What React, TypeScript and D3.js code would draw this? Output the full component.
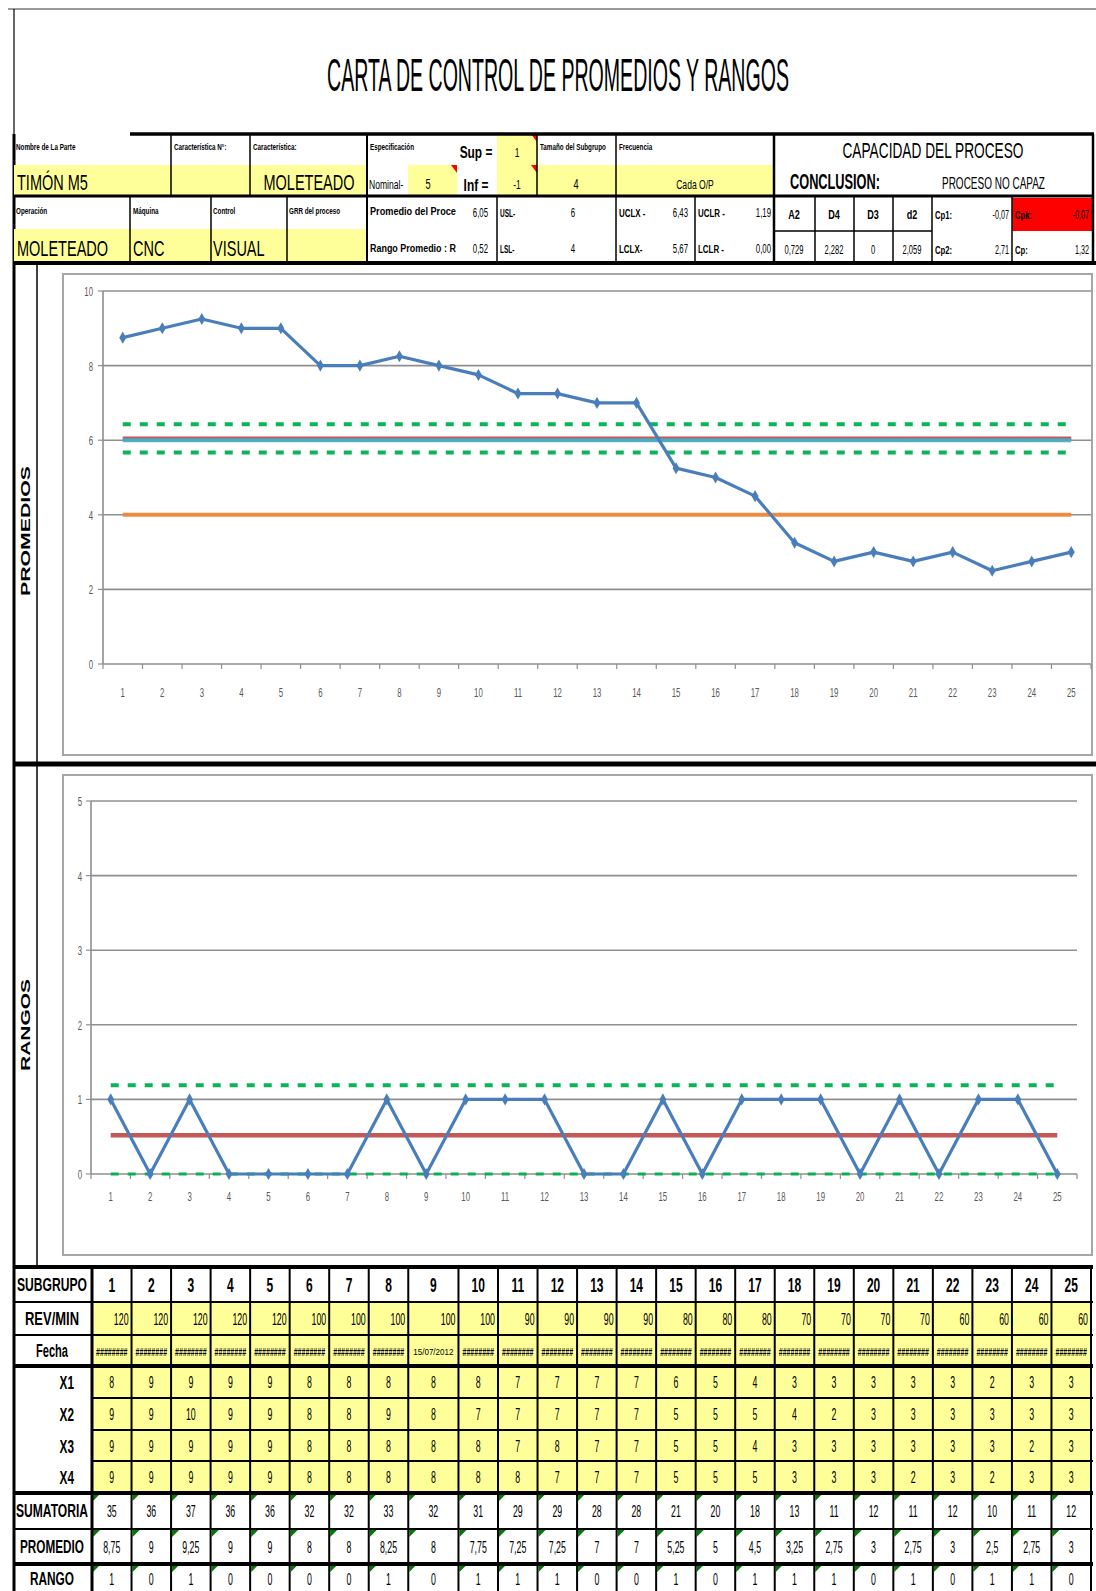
import React from 'react';
import * as d3 from 'd3';

const FONT = "'Liberation Sans', Arial, Helvetica, sans-serif";

// ---------------- data ----------------
const SUBGROUPS = [1, 2, 3, 4, 5, 6, 7, 8, 9, 10, 11, 12, 13, 14, 15, 16, 17, 18, 19, 20, 21, 22, 23, 24, 25];
const REV_MIN = [120, 120, 120, 120, 120, 100, 100, 100, 100, 100, 90, 90, 90, 90, 80, 80, 80, 70, 70, 70, 70, 60, 60, 60, 60];
const FECHA = ['########', '########', '########', '########', '########', '########', '########', '########', '15/07/2012', '########', '########', '########', '########', '########', '########', '########', '########', '########', '########', '########', '########', '########', '########', '########', '########'];
const X1 = [8, 9, 9, 9, 9, 8, 8, 8, 8, 8, 7, 7, 7, 7, 6, 5, 4, 3, 3, 3, 3, 3, 2, 3, 3];
const X2 = [9, 9, 10, 9, 9, 8, 8, 9, 8, 7, 7, 7, 7, 7, 5, 5, 5, 4, 2, 3, 3, 3, 3, 3, 3];
const X3 = [9, 9, 9, 9, 9, 8, 8, 8, 8, 8, 7, 8, 7, 7, 5, 5, 4, 3, 3, 3, 3, 3, 3, 2, 3];
const X4 = [9, 9, 9, 9, 9, 8, 8, 8, 8, 8, 8, 7, 7, 7, 5, 5, 5, 3, 3, 3, 2, 3, 2, 3, 3];
const SUMATORIA = [35, 36, 37, 36, 36, 32, 32, 33, 32, 31, 29, 29, 28, 28, 21, 20, 18, 13, 11, 12, 11, 12, 10, 11, 12];
const PROMEDIO = [8.75, 9, 9.25, 9, 9, 8, 8, 8.25, 8, 7.75, 7.25, 7.25, 7, 7, 5.25, 5, 4.5, 3.25, 2.75, 3, 2.75, 3, 2.5, 2.75, 3];
const RANGO = [1, 0, 1, 0, 0, 0, 0, 1, 0, 1, 1, 1, 0, 0, 1, 0, 1, 1, 1, 0, 1, 0, 1, 1, 0];

const Y_PROM_TICKS = [0, 2, 4, 6, 8, 10];
const Y_RANGO_TICKS = [0, 1, 2, 3, 4, 5];

const XBARBAR = 6.05;
const UCLX = 6.43;
const LCLX = 5.67;
const USL = 6;
const LSL = 4;
const RBAR = 0.52;
const UCLR = 1.19;
const LCLR = 0;

const CONST_HEAD = ['A2', 'D4', 'D3', 'd2'];
const CONST_VAL = ['0,729', '2,282', '0', '2,059'];

const TITLE = 'CARTA DE CONTROL DE PROMEDIOS Y RANGOS';

// ---------------- helpers ----------------
const fmt = (v: number) => String(v).replace('.', ',');
const YELLOW = '#FFFF99';

function T({ x, y, children, size = 12, bold = false, anchor = 'start', sx = 0.65, fill = '#000', len }: any) {
  const ref = React.useRef<SVGTextElement>(null);
  const [s, setS] = React.useState<number>(len ? 0.6 : sx);
  React.useLayoutEffect(() => {
    if (len && ref.current) {
      const natural = ref.current.getComputedTextLength();
      if (natural > 0) setS(len / natural);
    }
  }, [len, children, size]);
  return (
    <text ref={ref} transform={`translate(${x},${y}) scale(${s},1)`} fontSize={size} fontWeight={bold ? 700 : 400}
      textAnchor={anchor} fill={fill} fontFamily={FONT}>{children}</text>
  );
}

function L({ x1, y1, x2, y2, w = 2, c = '#000', dash }: any) {
  return <line x1={x1} y1={y1} x2={x2} y2={y2} stroke={c} strokeWidth={w} strokeDasharray={dash} />;
}

const diamond = d3.symbol(d3.symbolDiamond, 42)() as string;

// ---------------- header ----------------
function Header() {
  const redTri = (x: number, y: number) => <polygon points={`${x - 6},${y} ${x},${y} ${x},${y + 8}`} fill="#FF0000" />;
  const cx4 = [794, 834, 873, 912];
  return (
    <g>
      <T x={558} y={91} size={46} len={462} anchor="middle">{TITLE}</T>

      {/* yellow fills row 1 */}
      <rect x={14} y={165} width={157} height={30} fill={YELLOW} />
      <rect x={171} y={165} width={79} height={30} fill={YELLOW} />
      <rect x={250} y={165} width={117} height={30} fill={YELLOW} />
      <rect x={408} y={165} width={49} height={30} fill={YELLOW} />
      <rect x={497} y={134} width={40} height={61} fill={YELLOW} />
      <rect x={537} y={165} width={79} height={30} fill={YELLOW} />
      <rect x={616} y={165} width={158} height={30} fill={YELLOW} />
      {/* yellow fills row 2 */}
      <rect x={14} y={229} width={116} height={33} fill={YELLOW} />
      <rect x={130} y={229} width={81} height={33} fill={YELLOW} />
      <rect x={211} y={229} width={76} height={33} fill={YELLOW} />
      <rect x={287} y={229} width={80} height={33} fill={YELLOW} />
      <rect x={1012} y={198} width={80} height={33} fill="#FF0000" />

      {redTri(457, 165)}
      {redTri(537, 134)}
      {redTri(537, 165)}

      {/* lines */}
      <L x1={130} y1={134} x2={1094} y2={134} w={3.5} />
      <L x1={14} y1={196} x2={1094} y2={196} w={3} />
      <L x1={14} y1={263} x2={1096} y2={263} w={4} />
      {[171, 250, 537, 616].map((x) => <L key={'a' + x} x1={x} y1={134} x2={x} y2={196} w={1.5} />)}
      <L x1={367} y1={134} x2={367} y2={263} w={2} />
      <L x1={774} y1={134} x2={774} y2={263} w={2.5} />
      <L x1={1093} y1={134} x2={1093} y2={263} w={2.5} />
      {[130, 211, 287, 497, 616, 695, 815, 854, 893, 932, 1012].map((x) => (
        <L key={'b' + x} x1={x} y1={196} x2={x} y2={263} w={1.5} />
      ))}
      <L x1={774} y1={231} x2={932} y2={231} w={1.5} />

      {/* row 1 labels */}
      <T x={16} y={150} size={9} bold sx={0.7}>Nombre de La Parte</T>
      <T x={174} y={150} size={9} bold sx={0.7}>Característica N°:</T>
      <T x={253} y={150} size={9} bold sx={0.7}>Característica:</T>
      <T x={370} y={150} size={9} bold sx={0.7}>Especificación</T>
      <T x={540} y={150} size={9} bold sx={0.7}>Tamaño del Subgrupo</T>
      <T x={619} y={150} size={9} bold sx={0.7}>Frecuencia</T>
      <T x={476} y={158} size={17} bold sx={0.7} anchor="middle">Sup =</T>
      <T x={476} y={191} size={17} bold sx={0.7} anchor="middle">Inf =</T>
      <T x={517} y={157} size={13} sx={0.65} anchor="middle">1</T>
      <T x={517} y={189} size={13} sx={0.65} anchor="middle">-1</T>

      {/* row 1 values */}
      <T x={17} y={190} size={22} sx={0.66}>TIMÓN M5</T>
      <T x={309} y={190} size={22} sx={0.66} anchor="middle">MOLETEADO</T>
      <T x={369} y={189} size={13} sx={0.66}>Nominal-</T>
      <T x={428} y={189} size={14} sx={0.66} anchor="middle">5</T>
      <T x={576} y={189} size={14} sx={0.66} anchor="middle">4</T>
      <T x={695} y={189} size={13} sx={0.66} anchor="middle">Cada O/P</T>

      {/* capacidad */}
      <T x={933} y={158} size={22} len={181} anchor="middle">CAPACIDAD DEL PROCESO</T>
      <T x={790} y={189} size={22} bold len={90}>CONCLUSION:</T>
      <T x={942} y={189} size={16} len={103}>PROCESO NO CAPAZ</T>

      {/* row 2 labels */}
      <T x={16} y={214} size={9} bold sx={0.7}>Operación</T>
      <T x={133} y={214} size={9} bold sx={0.7}>Máquina</T>
      <T x={213} y={214} size={9} bold sx={0.7}>Control</T>
      <T x={289} y={214} size={9} bold sx={0.7}>GRR del proceso</T>
      <T x={17} y={256} size={22} sx={0.66}>MOLETEADO</T>
      <T x={133} y={256} size={22} sx={0.66}>CNC</T>
      <T x={213} y={256} size={22} sx={0.66}>VISUAL</T>

      <T x={370} y={215} size={11} bold len={86}>Promedio del Proce</T>
      <T x={370} y={252} size={11} bold len={86}>Rango Promedio : R</T>
      <T x={488} y={217} size={13} sx={0.6} anchor="end">{fmt(XBARBAR)}</T>
      <T x={488} y={253} size={13} sx={0.6} anchor="end">{fmt(RBAR)}</T>

      <T x={500} y={217} size={10} bold sx={0.65}>USL-</T>
      <T x={500} y={253} size={10} bold sx={0.65}>LSL-</T>
      <T x={573} y={217} size={13} sx={0.6} anchor="middle">{fmt(USL)}</T>
      <T x={573} y={253} size={13} sx={0.6} anchor="middle">{fmt(LSL)}</T>

      <T x={619} y={217} size={11} bold sx={0.72}>UCLX -</T>
      <T x={619} y={253} size={11} bold sx={0.72}>LCLX-</T>
      <T x={688} y={217} size={13} sx={0.6} anchor="end">{fmt(UCLX)}</T>
      <T x={688} y={253} size={13} sx={0.6} anchor="end">{fmt(LCLX)}</T>

      <T x={698} y={217} size={11} bold sx={0.72}>UCLR -</T>
      <T x={698} y={253} size={11} bold sx={0.72}>LCLR -</T>
      <T x={771} y={217} size={13} sx={0.6} anchor="end">{fmt(UCLR)}</T>
      <T x={771} y={253} size={13} sx={0.6} anchor="end">{LCLR.toFixed(2).replace('.', ',')}</T>

      {CONST_HEAD.map((h, i) => (
        <T key={h} x={cx4[i]} y={219} size={13} bold sx={0.7} anchor="middle">{h}</T>
      ))}
      {CONST_VAL.map((v, i) => (
        <T key={'v' + i} x={cx4[i]} y={254} size={13} sx={0.58} anchor="middle">{v}</T>
      ))}
      <T x={935} y={219} size={11} bold sx={0.7}>Cp1:</T>
      <T x={1009} y={219} size={12} sx={0.6} anchor="end">-0,07</T>
      <T x={935} y={254} size={11} bold sx={0.7}>Cp2:</T>
      <T x={1009} y={254} size={12} sx={0.6} anchor="end">2,71</T>
      <T x={1015} y={219} size={11} bold sx={0.7}>Cpk:</T>
      <T x={1089} y={219} size={12} sx={0.6} anchor="end">-0,07</T>
      <T x={1015} y={254} size={11} bold sx={0.7}>Cp:</T>
      <T x={1089} y={254} size={12} sx={0.6} anchor="end">1,32</T>
    </g>
  );
}

// ---------------- charts ----------------
function ControlChart({ x0, x1, y0, y1, yMax, ticks, values, refs, labelX, tickLabelX }: any) {
  const x = d3.scaleBand<number>().domain(SUBGROUPS).range([x0, x1]);
  const y = d3.scaleLinear().domain([0, yMax]).range([y0, y1]);
  const cx = (d: number) => (x(d) as number) + x.bandwidth() / 2;
  const line = d3.line<number>().x((_, i) => cx(SUBGROUPS[i])).y((v) => y(v));
  const first = cx(SUBGROUPS[0]);
  const last = cx(SUBGROUPS[SUBGROUPS.length - 1]);
  const grid = '#8f8f8f';
  return (
    <g>
      {ticks.map((t: number) => (
        <g key={'g' + t}>
          <L x1={x0} x2={x1} y1={y(t)} y2={y(t)} c={grid} w={1.6} />
          <L x1={x0 - 5} x2={x0} y1={y(t)} y2={y(t)} c={grid} w={1.2} />
          <T x={tickLabelX} y={y(t) + 5} size={13} sx={0.6} fill="#595959" anchor="end">{t}</T>
        </g>
      ))}
      <L x1={x0} x2={x0} y1={y(0)} y2={y(yMax)} c={grid} w={1.6} />
      {[...SUBGROUPS.map((d) => x(d) as number), x1].map((px, i) => (
        <L key={'xt' + i} x1={px} x2={px} y1={y(0)} y2={y(0) + 5} c={grid} w={1.2} />
      ))}
      {SUBGROUPS.map((d) => (
        <T key={'xl' + d} x={cx(d)} y={labelX} size={13} sx={0.6} fill="#595959" anchor="middle">{d}</T>
      ))}
      {refs.map((r: any, i: number) => (
        <line key={'r' + i} x1={first} x2={last} y1={y(r.v)} y2={y(r.v)} stroke={r.c} strokeWidth={r.w}
          strokeDasharray={r.dash} opacity={0.95} />
      ))}
      <path d={line(values) as string} fill="none" stroke="#4A7EBB" strokeWidth={3.2} strokeLinejoin="round" />
      {values.map((v: number, i: number) => (
        <path key={'m' + i} d={diamond} transform={`translate(${cx(SUBGROUPS[i])},${y(v)})`} fill="#4A7EBB" />
      ))}
    </g>
  );
}

// ---------------- table ----------------
function Table() {
  const weights = SUBGROUPS.map((d) => (d === 9 ? 1.27 : 1));
  const cum = [0];
  weights.forEach((w) => cum.push(cum[cum.length - 1] + w));
  const colX = d3.scaleLinear().domain([0, cum[cum.length - 1]]).range([92, 1091]);
  const edges = cum.map((c) => colX(c));
  const rowEdges = [1267, 1302, 1335, 1366, 1398, 1430, 1461, 1493, 1529, 1564, 1594];
  const rows: any[] = [
    { label: 'SUBGRUPO', len: 70, vals: SUBGROUPS.map(String), fill: '#fff', kind: 'head' },
    { label: 'REV/MIN', len: 54, vals: REV_MIN.map(String), fill: YELLOW, kind: 'right' },
    { label: 'Fecha', len: 32, vals: FECHA, fill: YELLOW, kind: 'date' },
    { label: 'X1', vals: X1.map(String), fill: YELLOW, kind: 'x' },
    { label: 'X2', vals: X2.map(String), fill: YELLOW, kind: 'x' },
    { label: 'X3', vals: X3.map(String), fill: YELLOW, kind: 'x' },
    { label: 'X4', vals: X4.map(String), fill: YELLOW, kind: 'x' },
    { label: 'SUMATORIA', len: 72, vals: SUMATORIA.map(String), fill: '#fff', kind: 'calc' },
    { label: 'PROMEDIO', len: 64, vals: PROMEDIO.map(fmt), fill: '#fff', kind: 'calc' },
    { label: 'RANGO', len: 44, vals: RANGO.map(String), fill: '#fff', kind: 'calc' },
  ];
  const thick = new Set([1267, 1366, 1493, 1564]);
  return (
    <g>
      {rows.map((r, ri) => {
        const top = rowEdges[ri];
        const bot = rowEdges[ri + 1];
        const mid = (top + bot) / 2;
        return (
          <g key={'row' + ri}>
            {r.vals.map((v: string, ci: number) => {
              const xl = edges[ci];
              const xr = edges[ci + 1];
              const xc = (xl + xr) / 2;
              let txt;
              if (r.kind === 'head') txt = <T x={xc} y={mid + 7} size={20} bold sx={0.6} anchor="middle">{v}</T>;
              else if (r.kind === 'right') txt = <T x={xr - 3} y={mid + 6} size={16} sx={0.55} anchor="end">{v}</T>;
              else if (r.kind === 'date')
                txt = v.startsWith('#')
                  ? <T x={xc} y={mid + 5} size={11} bold len={xr - xl - 8} anchor="middle">{v}</T>
                  : <T x={xc} y={mid + 4} size={9} len={xr - xl - 10} anchor="middle">{v}</T>;
              else txt = <T x={xc} y={mid + 6} size={16} sx={0.55} anchor="middle">{v}</T>;
              return (
                <g key={'c' + ci}>
                  <rect x={xl} y={top} width={xr - xl} height={bot - top} fill={r.fill} />
                  {r.kind === 'calc' && (
                    <polygon points={`${xl + 1},${top + 1} ${xl + 8},${top + 1} ${xl + 1},${top + 8}`} fill="#007A00" />
                  )}
                  {txt}
                </g>
              );
            })}
            {r.kind === 'x' ? (
              <T x={74} y={mid + 7} size={19} bold sx={0.62} anchor="end">{r.label}</T>
            ) : (
              <T x={52} y={mid + 6} size={19} bold len={r.len} anchor="middle">{r.label}</T>
            )}
          </g>
        );
      })}
      {rowEdges.slice(0, -1).map((ry) => {
        const inside = ry > 1366 && ry < 1493;
        return <L key={'h' + ry} x1={inside ? 92 : 14} x2={1093} y1={ry} y2={ry} w={thick.has(ry) ? 4 : 2} />;
      })}
      {edges.map((ex, i) => (
        <L key={'v' + i} x1={ex} x2={ex} y1={1267} y2={1591} w={i === 0 ? 3 : 2} />
      ))}
    </g>
  );
}

export default function App() {
  return (
    <div style={{ position: 'absolute', left: 0, top: 0 }}>
      <svg width={1096} height={1591} style={{ display: 'block', background: '#fff' }}>
        <rect x={0} y={0} width={1096} height={1591} fill="#fff" />
        <L x1={8} y1={9} x2={1096} y2={9} c="#9a9a9a" w={2} />
        <L x1={14} y1={9} x2={14} y2={134} w={1.2} />
        <L x1={14} y1={134} x2={14} y2={1591} w={3} />
        <L x1={37} y1={263} x2={37} y2={1267} w={1.5} />
        <Header />

        {/* chart frames */}
        <rect x={63} y={274} width={1029} height={481} fill="#fff" stroke="#a6a6a6" strokeWidth={2} />
        <rect x={63} y={775} width={1029} height={480} fill="#fff" stroke="#a6a6a6" strokeWidth={2} />
        <L x1={14} y1={764} x2={1096} y2={764} w={5} />

        <g transform="translate(30,531) rotate(-90)">
          <T x={0} y={0} size={13} bold len={130} anchor="middle">PROMEDIOS</T>
        </g>
        <g transform="translate(30,1025) rotate(-90)">
          <T x={0} y={0} size={13} bold len={92} anchor="middle">RANGOS</T>
        </g>

        <ControlChart x0={103} x1={1091} y0={664} y1={291} yMax={10} ticks={Y_PROM_TICKS} values={PROMEDIO}
          labelX={697} tickLabelX={93}
          refs={[
            { v: UCLX, c: '#00B050', w: 4, dash: '8,9' },
            { v: LCLX, c: '#00B050', w: 4, dash: '8,9' },
            { v: XBARBAR, c: '#C0504D', w: 3.5 },
            { v: USL, c: '#4BACC6', w: 4 },
            { v: LSL, c: '#F0883A', w: 4 },
          ]} />

        <ControlChart x0={91} x1={1077} y0={1174} y1={801} yMax={5} ticks={Y_RANGO_TICKS} values={RANGO}
          labelX={1201} tickLabelX={82}
          refs={[
            { v: UCLR, c: '#00B050', w: 4, dash: '8,9' },
            { v: LCLR, c: '#00B050', w: 3, dash: '8,9' },
            { v: RBAR, c: '#C0504D', w: 4.5 },
          ]} />

        <Table />
      </svg>
    </div>
  );
}
